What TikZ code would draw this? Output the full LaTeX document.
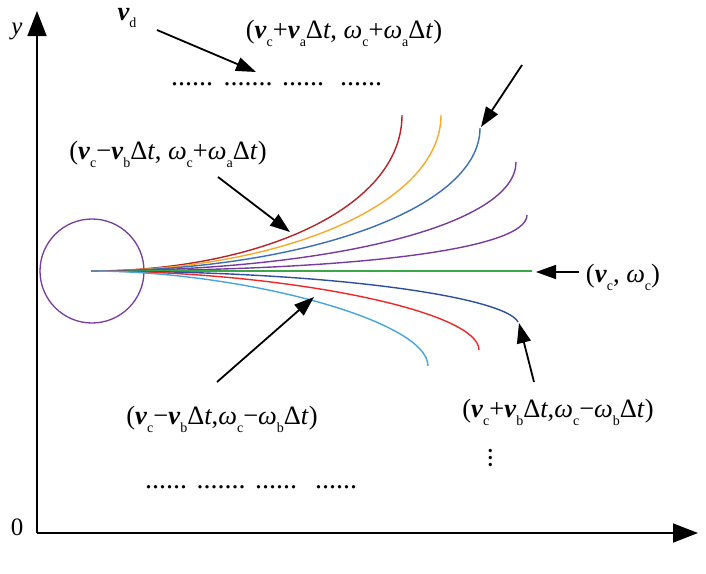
\documentclass[tikz,border=0pt]{standalone}
\usepackage{fontspec}
\setmainfont{Liberation Serif}
\usetikzlibrary{arrows.meta}
\definecolor{cdred}{RGB}{180,36,40}
\definecolor{corange}{RGB}{246,170,40}
\definecolor{cblue}{RGB}{58,110,181}
\definecolor{cpurple}{RGB}{120,60,160}
\definecolor{cgreen}{RGB}{58,168,70}
\definecolor{cdblue}{RGB}{46,78,158}
\definecolor{cred}{RGB}{238,40,40}
\definecolor{clblue}{RGB}{70,166,220}
\newcommand{\bv}{\textbf{\textit{v}}}
\newcommand{\om}{\textit{ω}}
\newcommand{\sbs}[1]{\raisebox{-0.3em}{\fontsize{14}{14}\selectfont #1}}
\begin{document}
\begin{tikzpicture}[x=1pt,y=-1pt,
  lbl/.style={font=\fontsize{26.5}{30}\selectfont, inner sep=0pt},
  dots/.style={font=\fontsize{28}{28}\selectfont, inner sep=0pt},
  axis/.style={line width=1.6pt, -{Triangle[length=25pt,width=19pt]}},
  pointer/.style={line width=1.8pt, -{Triangle[length=20pt,width=14pt]}},
  traj/.style={line width=1.4pt}]
\useasboundingbox (0,0) rectangle (706,573);

% axes
\coordinate (O) at (37,533);
\coordinate (ytop) at (37,11);
\coordinate (xend) at (698,533);
\draw[axis] (O) -- (ytop);
\draw[axis] (O) -- (xend);
\node[lbl, font=\fontsize{25}{28}\selectfont\itshape] (ylab) at (17,31) {y};
\node[lbl, font=\fontsize{25}{28}\selectfont] (zero) at (17,527) {0};

% robot circle
\node[draw=cpurple, line width=1.3pt, circle, minimum size=104pt, inner sep=0pt] (robot) at (92,271) {};
\coordinate (S) at (91,271);

% trajectories
\coordinate (e1) at (402,115);
\coordinate (e2) at (441,115);
\coordinate (e3) at (480,128);
\coordinate (e4) at (516,162);
\coordinate (e5) at (527,215);
\coordinate (e6) at (532,271);
\coordinate (e7) at (518,322);
\coordinate (e8) at (479,350);
\coordinate (e9) at (428,366);
\draw[traj, cdred]   (S) .. controls (255,271) and (402,210) .. (e1);
\draw[traj, corange] (S) .. controls (280,271) and (441,205) .. (e2);
\draw[traj, cblue]   (S) .. controls (300,271) and (480,210) .. (e3);
\draw[traj, cpurple] (S) .. controls (330,271) and (516,225) .. (e4);
\draw[traj, cpurple] (S) .. controls (350,271) and (527,250) .. (e5);
\draw[traj, cgreen]  (S) -- (e6);
\draw[traj, cdblue]  (S) .. controls (340,271) and (506,298) .. (e7);
\draw[traj, cred]    (S) .. controls (280,271) and (479,310) .. (e8);
\draw[traj, clblue]  (S) .. controls (240,271) and (428,320) .. (e9);

% labels
\node[lbl] (vd) at (127,18) {\bv\sbs{d}};
\node[lbl] (L1) at (344,33) {(\bv\sbs{c}+\bv\sbs{a}Δ\textit{t}, \om\sbs{c}+\om\sbs{a}Δ\textit{t})};
\node[lbl] (L2) at (168,154) {(\bv\sbs{c}−\bv\sbs{b}Δ\textit{t}, \om\sbs{c}+\om\sbs{a}Δ\textit{t})};
\node[lbl] (L3) at (623,277) {(\bv\sbs{c}, \om\sbs{c})};
\node[lbl] (L4) at (558,412) {(\bv\sbs{c}+\bv\sbs{b}Δ\textit{t},\om\sbs{c}−\om\sbs{b}Δ\textit{t})};
\node[lbl] (L5) at (222,419) {(\bv\sbs{c}−\bv\sbs{b}Δ\textit{t},\om\sbs{c}−\om\sbs{b}Δ\textit{t})};

% dots
\node[dots] (t1) at (192,84) {......};
\node[dots] (t2) at (248,84) {.......};
\node[dots] (t3) at (303,84) {......};
\node[dots] (t4) at (361,84) {......};
\node[dots] (b1) at (166,487) {......};
\node[dots] (b2) at (221,487) {.......};
\node[dots] (b3) at (276,487) {......};
\node[dots] (b4) at (336,487) {......};
\node[dots, rotate=-90] (vdots) at (491,458) {...};

% pointers
\coordinate (p1s) at (157,30);  \coordinate (p1e) at (256,72);
\coordinate (p2s) at (522,65);  \coordinate (p2e) at (481,127);
\coordinate (p3s) at (218,177); \coordinate (p3e) at (290,232);
\coordinate (p4s) at (217,382); \coordinate (p4e) at (314,297);
\coordinate (p5s) at (579,272); \coordinate (p5e) at (536,272);
\coordinate (p6s) at (534,382); \coordinate (p6e) at (519,323);
\draw[pointer] (p1s) -- (p1e);
\draw[pointer] (p2s) -- (p2e);
\draw[pointer] (p3s) -- (p3e);
\draw[pointer] (p4s) -- (p4e);
\draw[pointer] (p5s) -- (p5e);
\draw[pointer] (p6s) -- (p6e);
\end{tikzpicture}
\end{document}
